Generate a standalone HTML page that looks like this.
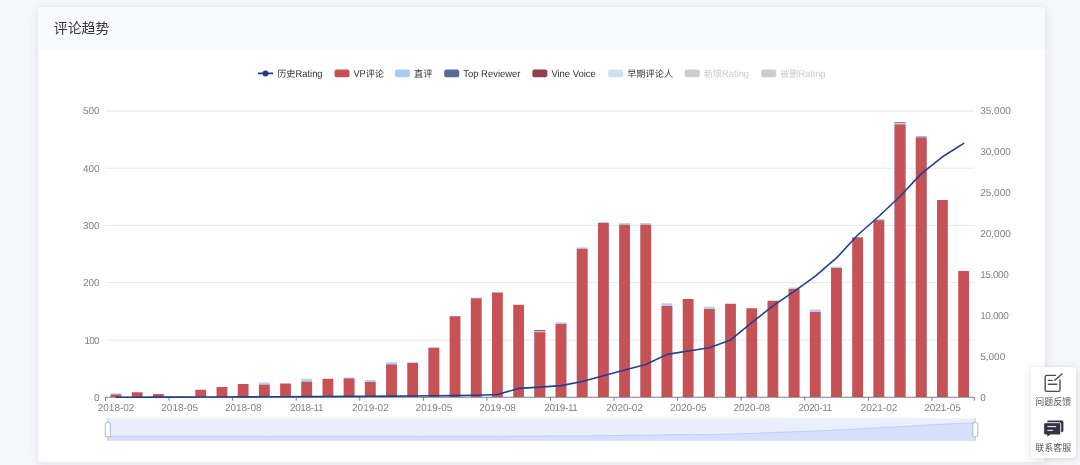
<!DOCTYPE html>
<html lang="zh-CN">
<head>
<meta charset="utf-8">
<title>评论趋势</title>
<style>
html,body{margin:0;padding:0;}
body{width:1080px;height:465px;overflow:hidden;background:#f7f8fc;font-family:"Liberation Sans", "Noto Sans CJK SC", sans-serif;position:relative;}
.card{position:absolute;left:38px;top:7px;width:1007px;height:454.7px;background:#fff;border-radius:3.5px;box-shadow:0 1px 10px rgba(60,70,115,.15);overflow:hidden;}
.card-hd{height:42.7px;background:#f9fafe;box-sizing:border-box;padding-left:15.8px;line-height:43.6px;font-size:13.9px;color:#363636;}
svg.chart{position:absolute;left:0;top:0;width:1080px;height:465px;font-family:"Liberation Sans", "Noto Sans CJK SC", sans-serif;}
.float{position:absolute;left:1030.8px;top:366.7px;width:45px;height:91px;background:#fff;border-radius:4px;box-shadow:0 1px 7px rgba(40,50,80,.19);}
.float .it{position:absolute;left:0;width:45px;text-align:center;font-size:9px;color:#555;line-height:10px;}
.float svg{position:absolute;}
</style>
</head>
<body>
<div class="card">
  <div class="card-hd">评论趋势</div>
</div>
<svg class="chart" width="1080" height="465" viewBox="0 0 1080 465" text-rendering="geometricPrecision">
<line x1="105.5" x2="974.3" y1="340.2" y2="340.2" stroke="#e6e9f5" stroke-width="1"/>
<line x1="105.5" x2="974.3" y1="282.6" y2="282.6" stroke="#e6e9f5" stroke-width="1"/>
<line x1="105.5" x2="974.3" y1="225.4" y2="225.4" stroke="#e6e9f5" stroke-width="1"/>
<line x1="105.5" x2="974.3" y1="168.2" y2="168.2" stroke="#e6e9f5" stroke-width="1"/>
<line x1="105.5" x2="974.3" y1="111" y2="111" stroke="#e6e9f5" stroke-width="1"/>
<rect x="110.6" y="393.5" width="10.8" height="3.5" fill="#b2d0f3"/>
<rect x="110.6" y="394.5" width="10.8" height="2.5" fill="#c75256"/>
<rect x="131.79" y="392.25" width="10.8" height="4.75" fill="#c75256"/>
<rect x="152.98" y="394" width="10.8" height="3" fill="#c75256"/>
<rect x="195.36" y="389.75" width="10.8" height="7.25" fill="#c75256"/>
<rect x="216.55" y="387" width="10.8" height="10" fill="#c75256"/>
<rect x="237.74" y="384" width="10.8" height="13" fill="#c75256"/>
<rect x="258.93" y="382.5" width="10.8" height="14.5" fill="#b2d0f3"/>
<rect x="258.93" y="384.75" width="10.8" height="12.25" fill="#c75256"/>
<rect x="280.12" y="383.5" width="10.8" height="13.5" fill="#c75256"/>
<rect x="301.31" y="378.75" width="10.8" height="18.25" fill="#b2d0f3"/>
<rect x="301.31" y="381.75" width="10.8" height="15.25" fill="#c75256"/>
<rect x="322.5" y="378.75" width="10.8" height="18.25" fill="#c75256"/>
<rect x="343.69" y="377.5" width="10.8" height="19.5" fill="#b2d0f3"/>
<rect x="343.69" y="378.5" width="10.8" height="18.5" fill="#c75256"/>
<rect x="364.88" y="380" width="10.8" height="17" fill="#b2d0f3"/>
<rect x="364.88" y="382" width="10.8" height="15" fill="#c75256"/>
<rect x="386.07" y="362.2" width="10.8" height="34.8" fill="#b2d0f3"/>
<rect x="386.07" y="364.5" width="10.8" height="32.5" fill="#c75256"/>
<rect x="407.26" y="362.7" width="10.8" height="34.3" fill="#c75256"/>
<rect x="428.45" y="347" width="10.8" height="50" fill="#b2d0f3"/>
<rect x="428.45" y="348" width="10.8" height="49" fill="#c75256"/>
<rect x="449.64" y="316.2" width="10.8" height="80.8" fill="#c75256"/>
<rect x="470.83" y="297.6" width="10.8" height="99.4" fill="#b2d0f3"/>
<rect x="470.83" y="298.4" width="10.8" height="98.6" fill="#c75256"/>
<rect x="492.02" y="292.5" width="10.8" height="104.5" fill="#c75256"/>
<rect x="513.21" y="304.8" width="10.8" height="92.2" fill="#c75256"/>
<rect x="534.4" y="330.1" width="10.8" height="66.9" fill="#8f4356"/>
<rect x="534.4" y="331" width="10.8" height="66" fill="#b2d0f3"/>
<rect x="534.4" y="332.2" width="10.8" height="64.8" fill="#c75256"/>
<rect x="555.59" y="322.25" width="10.8" height="74.75" fill="#b2d0f3"/>
<rect x="555.59" y="324" width="10.8" height="73" fill="#c75256"/>
<rect x="576.78" y="247.3" width="10.8" height="149.7" fill="#b2d0f3"/>
<rect x="576.78" y="248.9" width="10.8" height="148.1" fill="#c75256"/>
<rect x="597.97" y="222.1" width="10.8" height="174.9" fill="#b2d0f3"/>
<rect x="597.97" y="223" width="10.8" height="174" fill="#c75256"/>
<rect x="619.16" y="223" width="10.8" height="174" fill="#b2d0f3"/>
<rect x="619.16" y="224.8" width="10.8" height="172.2" fill="#c75256"/>
<rect x="640.35" y="223" width="10.8" height="174" fill="#b2d0f3"/>
<rect x="640.35" y="224.8" width="10.8" height="172.2" fill="#c75256"/>
<rect x="661.54" y="303.25" width="10.8" height="93.75" fill="#b2d0f3"/>
<rect x="661.54" y="306" width="10.8" height="91" fill="#c75256"/>
<rect x="682.73" y="299" width="10.8" height="98" fill="#c75256"/>
<rect x="703.92" y="306.75" width="10.8" height="90.25" fill="#b2d0f3"/>
<rect x="703.92" y="309" width="10.8" height="88" fill="#c75256"/>
<rect x="725.11" y="303.75" width="10.8" height="93.25" fill="#c75256"/>
<rect x="746.3" y="308.25" width="10.8" height="88.75" fill="#c75256"/>
<rect x="767.49" y="300.75" width="10.8" height="96.25" fill="#c75256"/>
<rect x="788.68" y="287.5" width="10.8" height="109.5" fill="#b2d0f3"/>
<rect x="788.68" y="289" width="10.8" height="108" fill="#c75256"/>
<rect x="809.87" y="309.5" width="10.8" height="87.5" fill="#b2d0f3"/>
<rect x="809.87" y="312" width="10.8" height="85" fill="#c75256"/>
<rect x="831.06" y="266.5" width="10.8" height="130.5" fill="#b2d0f3"/>
<rect x="831.06" y="268" width="10.8" height="129" fill="#c75256"/>
<rect x="852.25" y="237" width="10.8" height="160" fill="#b2d0f3"/>
<rect x="852.25" y="237.5" width="10.8" height="159.5" fill="#c75256"/>
<rect x="873.44" y="218.75" width="10.8" height="178.25" fill="#b2d0f3"/>
<rect x="873.44" y="220.25" width="10.8" height="176.75" fill="#c75256"/>
<rect x="894.63" y="122.1" width="10.8" height="274.9" fill="#a4647a"/>
<rect x="894.63" y="122.9" width="10.8" height="274.1" fill="#b2d0f3"/>
<rect x="894.63" y="124.5" width="10.8" height="272.5" fill="#c75256"/>
<rect x="915.82" y="136.2" width="10.8" height="260.8" fill="#98a2c2"/>
<rect x="915.82" y="137.9" width="10.8" height="259.1" fill="#c75256"/>
<rect x="937.01" y="200" width="10.8" height="197" fill="#c75256"/>
<rect x="958.2" y="271" width="10.8" height="126" fill="#c75256"/>
<line x1="105.5" x2="974.3" y1="397.25" y2="397.25" stroke="#6e7079" stroke-width="0.9"/>
<line x1="105.5" x2="105.5" y1="397" y2="400.7" stroke="#6e7079" stroke-width="0.9"/>
<line x1="169.07" x2="169.07" y1="397" y2="400.7" stroke="#6e7079" stroke-width="0.9"/>
<line x1="232.64" x2="232.64" y1="397" y2="400.7" stroke="#6e7079" stroke-width="0.9"/>
<line x1="296.21" x2="296.21" y1="397" y2="400.7" stroke="#6e7079" stroke-width="0.9"/>
<line x1="359.78" x2="359.78" y1="397" y2="400.7" stroke="#6e7079" stroke-width="0.9"/>
<line x1="423.35" x2="423.35" y1="397" y2="400.7" stroke="#6e7079" stroke-width="0.9"/>
<line x1="486.92" x2="486.92" y1="397" y2="400.7" stroke="#6e7079" stroke-width="0.9"/>
<line x1="550.5" x2="550.5" y1="397" y2="400.7" stroke="#6e7079" stroke-width="0.9"/>
<line x1="614.07" x2="614.07" y1="397" y2="400.7" stroke="#6e7079" stroke-width="0.9"/>
<line x1="677.64" x2="677.64" y1="397" y2="400.7" stroke="#6e7079" stroke-width="0.9"/>
<line x1="741.21" x2="741.21" y1="397" y2="400.7" stroke="#6e7079" stroke-width="0.9"/>
<line x1="804.78" x2="804.78" y1="397" y2="400.7" stroke="#6e7079" stroke-width="0.9"/>
<line x1="868.35" x2="868.35" y1="397" y2="400.7" stroke="#6e7079" stroke-width="0.9"/>
<line x1="931.92" x2="931.92" y1="397" y2="400.7" stroke="#6e7079" stroke-width="0.9"/>
<line x1="974.3" x2="974.3" y1="397" y2="400.7" stroke="#6e7079" stroke-width="0.9"/>
<polyline points="116.1,397.2 137.29,397.2 158.48,397.1 179.67,397.1 200.86,397 222.05,397 243.24,396.9 264.43,396.8 285.62,396.7 306.81,396.6 328,396.5 349.19,396.4 370.38,396.3 391.57,396.1 412.76,396 433.95,395.8 455.14,395.6 476.33,395.2 497.52,394.45 518.71,388.4 539.9,387.15 561.09,385.65 582.28,381.5 603.47,375.75 624.66,370 645.85,364.5 667.04,354.4 688.23,351 709.42,347.75 730.61,339.9 751.8,322.7 772.99,305.8 794.18,291.3 815.37,276.1 836.56,257.9 857.75,235 878.94,216.25 900.13,196.25 921.32,173.6 942.51,156.8 963.7,143.4" fill="none" stroke="#233f8a" stroke-width="1.6" stroke-linejoin="round" stroke-linecap="round"/>
<g font-size="10" fill="#7e8189">
<text x="99.6" y="400.95" text-anchor="end">0</text>
<text x="99.6" y="343.62" text-anchor="end" textLength="15" lengthAdjust="spacing">100</text>
<text x="99.6" y="286.29" text-anchor="end">200</text>
<text x="99.6" y="228.96" text-anchor="end">300</text>
<text x="99.6" y="171.63" text-anchor="end">400</text>
<text x="99.6" y="114.3" text-anchor="end">500</text>
<text x="980.2" y="400.9">0</text>
<text x="980.2" y="359.97">5,000</text>
<text x="980.2" y="319.05" textLength="28.6" lengthAdjust="spacing">10,000</text>
<text x="980.2" y="278.12" textLength="28.6" lengthAdjust="spacing">15,000</text>
<text x="980.2" y="237.19">20,000</text>
<text x="980.2" y="196.26">25,000</text>
<text x="980.2" y="155.34">30,000</text>
<text x="980.2" y="114.41">35,000</text>
<text x="116.1" y="411.1" text-anchor="middle">2018-02</text>
<text x="179.67" y="411.1" text-anchor="middle">2018-05</text>
<text x="243.24" y="411.1" text-anchor="middle">2018-08</text>
<text x="306.81" y="411.1" text-anchor="middle" textLength="33.6" lengthAdjust="spacing">2018-11</text>
<text x="370.38" y="411.1" text-anchor="middle">2019-02</text>
<text x="433.95" y="411.1" text-anchor="middle">2019-05</text>
<text x="497.52" y="411.1" text-anchor="middle">2019-08</text>
<text x="561.09" y="411.1" text-anchor="middle" textLength="33.6" lengthAdjust="spacing">2019-11</text>
<text x="624.66" y="411.1" text-anchor="middle">2020-02</text>
<text x="688.23" y="411.1" text-anchor="middle">2020-05</text>
<text x="751.8" y="411.1" text-anchor="middle">2020-08</text>
<text x="815.37" y="411.1" text-anchor="middle" textLength="33.6" lengthAdjust="spacing">2020-11</text>
<text x="878.94" y="411.1" text-anchor="middle">2021-02</text>
<text x="942.51" y="411.1" text-anchor="middle">2021-05</text>
</g>
<rect x="107.2" y="418.3" width="868.6" height="22.5" fill="#e9effd"/>
<polygon points="107.2,440.8 107.2,436.4 128.91,436.4 150.63,436.4 172.34,436.4 194.06,436.4 215.78,436.4 237.49,436.4 259.2,436.4 280.92,436.39 302.63,436.39 324.35,436.39 346.06,436.39 367.78,436.39 389.49,436.38 411.21,436.38 432.92,436.37 454.64,436.37 476.35,436.36 498.07,436.34 519.78,436.14 541.5,436.1 563.22,436.04 584.93,435.88 606.64,435.65 628.36,435.41 650.07,435.17 671.79,434.71 693.5,434.55 715.22,434.4 736.93,434.02 758.65,433.17 780.37,432.29 802.08,431.52 823.79,430.68 845.51,429.66 867.22,428.35 888.94,427.25 910.65,426.05 932.37,424.68 954.08,423.64 975.8,422.8 975.8,440.8" fill="#d6e0fa"/>
<polyline points="107.2,436.4 128.91,436.4 150.63,436.4 172.34,436.4 194.06,436.4 215.78,436.4 237.49,436.4 259.2,436.4 280.92,436.39 302.63,436.39 324.35,436.39 346.06,436.39 367.78,436.39 389.49,436.38 411.21,436.38 432.92,436.37 454.64,436.37 476.35,436.36 498.07,436.34 519.78,436.14 541.5,436.1 563.22,436.04 584.93,435.88 606.64,435.65 628.36,435.41 650.07,435.17 671.79,434.71 693.5,434.55 715.22,434.4 736.93,434.02 758.65,433.17 780.37,432.29 802.08,431.52 823.79,430.68 845.51,429.66 867.22,428.35 888.94,427.25 910.65,426.05 932.37,424.68 954.08,423.64 975.8,422.8" fill="none" stroke="#bccbf6" stroke-width="0.9"/>
<line x1="107.8" x2="107.8" y1="418.3" y2="440.8" stroke="#b7c6f1" stroke-width="0.9"/>
<line x1="975.1999999999999" x2="975.1999999999999" y1="418.3" y2="440.8" stroke="#b7c6f1" stroke-width="0.9"/>
<rect x="105.3" y="422.4" width="5" height="14.4" rx="1.7" fill="#fff" stroke="#a2b2d6" stroke-width="0.9"/>
<rect x="972.8" y="422.4" width="5" height="14.4" rx="1.7" fill="#fff" stroke="#a2b2d6" stroke-width="0.9"/>
<g font-size="9.2" fill="#333">
<line x1="258" x2="273" y1="73.4" y2="73.4" stroke="#1f3a88" stroke-width="1.75"/>
<circle cx="265.5" cy="73.4" r="3" fill="#1f3a88"/>
<text x="277.2" y="77.1"><tspan>历史</tspan><tspan font-size="10" textLength="27" lengthAdjust="spacingAndGlyphs">Rating</tspan></text>
<rect x="334.5" y="69.45" width="15" height="7.7" rx="2" fill="#c75256"/>
<text x="353.5" y="77.1" fill="#333"><tspan font-size="10" textLength="12.2" lengthAdjust="spacingAndGlyphs">VP</tspan><tspan>评论</tspan></text>
<rect x="395" y="69.45" width="15" height="7.7" rx="2" fill="#a9cdf0"/>
<text x="414" y="77.1" fill="#333"><tspan>直评</tspan></text>
<rect x="444.25" y="69.45" width="15" height="7.7" rx="2" fill="#5b6b98"/>
<text x="463.25" y="77.1" fill="#333"><tspan font-size="10" textLength="57.2" lengthAdjust="spacingAndGlyphs">Top Reviewer</tspan></text>
<rect x="532.4" y="69.45" width="15" height="7.7" rx="2" fill="#8f4050"/>
<text x="551.4" y="77.1" fill="#333"><tspan font-size="10" textLength="44.4" lengthAdjust="spacingAndGlyphs">Vine Voice</tspan></text>
<rect x="608.2" y="69.45" width="15" height="7.7" rx="2" fill="#cfe0f9"/>
<text x="627.2" y="77.1" fill="#333"><tspan>早期评论人</tspan></text>
<rect x="684.7" y="69.45" width="15" height="7.7" rx="2" fill="#ccc"/>
<text x="703.7" y="77.1" fill="#ccc"><tspan>新增</tspan><tspan font-size="10" textLength="27" lengthAdjust="spacingAndGlyphs">Rating</tspan></text>
<rect x="761.2" y="69.45" width="15" height="7.7" rx="2" fill="#ccc"/>
<text x="780.2" y="77.1" fill="#ccc"><tspan>被删</tspan><tspan font-size="10" textLength="27" lengthAdjust="spacingAndGlyphs">Rating</tspan></text>
</g>
</svg>
<div class="float">
  <svg style="left:12px;top:5.5px" width="22" height="22" viewBox="0 0 22 22" fill="none" stroke="#474c57" stroke-width="1.4" stroke-linecap="round" stroke-linejoin="round">
    <path d="M12.4 3.4H3.8a1.6 1.6 0 0 0-1.6 1.6v12.8a1.6 1.6 0 0 0 1.6 1.6h11.6a1.6 1.6 0 0 0 1.6-1.6V8"/>
    <path d="M11.8 8.2L19 2"/>
    <path d="M5.4 8.4h3.6"/>
    <path d="M5.4 12.3h8.4"/>
  </svg>
  <div class="it" style="top:30.6px">问题反馈</div>
  <svg style="left:10.8px;top:52.6px" width="24" height="20" viewBox="0 0 24 20">
    <rect x="5.2" y="1.6" width="16.2" height="11.6" rx="1.4" fill="#2f3541"/>
    <path d="M3 3.7h14.4a1.3 1.3 0 0 1 1.3 1.3v9.6a1.3 1.3 0 0 1-1.3 1.3H8.2L5 18.6v-2.7H3a1.3 1.3 0 0 1-1.3-1.3V5a1.3 1.3 0 0 1 1.3-1.3z" fill="#2f3541" stroke="#fff" stroke-width="0.9"/>
    <path d="M5.4 7.6h8.6M5.4 11.3h5.6" stroke="#fff" stroke-width="1" fill="none"/>
  </svg>
  <div class="it" style="top:76.2px">联系客服</div>
</div>
</body>
</html>
